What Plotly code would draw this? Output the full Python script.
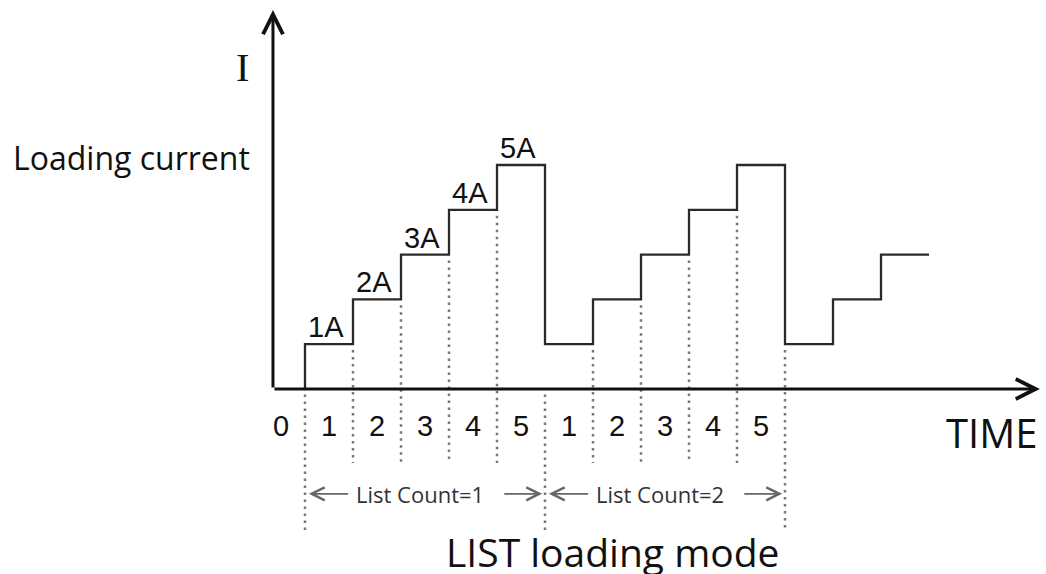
import plotly.graph_objects as go

# ---------------- data ----------------
step_times = [0, 1, 2, 3, 4, 5, 6, 7, 8, 9, 10, 11, 12, 13]      # step boundaries (time units)
step_currents = [1, 2, 3, 4, 5, 1, 2, 3, 4, 5, 1, 2, 3]            # current (A) during each step
level_labels = ["1A", "2A", "3A", "4A", "5A"]
tick_positions = [-0.5, 0.5, 1.5, 2.5, 3.5, 4.5, 5.5, 6.5, 7.5, 8.5, 9.5]
tick_labels = ["0", "1", "2", "3", "4", "5", "1", "2", "3", "4", "5"]
list_count_labels = ["List Count=1", "List Count=2"]
list_count_starts = [0, 5]
list_count_ends = [5, 10]
# dotted guide lines: boundary time, top current (0 = only below axis), long or short
guide_times = [0, 1, 2, 3, 4, 5, 6, 7, 8, 9, 10]
guide_tops = [0, 1, 2, 3, 4, 0, 1, 2, 3, 4, 1]
guide_long = [True, False, False, False, False, True, False, False, False, False, True]

# ---------------- layout constants ----------------
W, H = 1046, 574
X_RANGE = [-6.354, 15.4375]
Y_RANGE = [-4.129, 8.683]
AXIS_X0 = -0.667
AXIS_X1 = 15.31
AXIS_Y1 = 8.46
SHORT_BOTTOM = -1.65
LONG_BOTTOM = -3.15
GAP = 0.13
SANS = "Open Sans, Noto Sans, sans-serif"

fig = go.Figure()

# dotted guides
for t, top, lng in zip(guide_times, guide_tops, guide_long):
    y0 = top - GAP if top > 0 else -0.12
    y1 = LONG_BOTTOM if lng else SHORT_BOTTOM
    fig.add_trace(go.Scatter(
        x=[t, t], y=[y0, y1], mode="lines",
        line=dict(color="#777777", width=2.5, dash="2.5px,4.5px"),
        hoverinfo="skip"))

# step waveform
sx = [step_times[0]] + step_times
sy = [0] + step_currents + [step_currents[-1]]
fig.add_trace(go.Scatter(
    x=sx, y=sy, mode="lines", line_shape="hv",
    line=dict(color="#2a2a2a", width=2.3), hoverinfo="skip"))

ann = []
# axes arrows
ann.append(dict(x=AXIS_X1, y=0, ax=AXIS_X0, ay=0, xref="x", yref="y", axref="x", ayref="y",
                text="", showarrow=True, arrowhead=5, arrowsize=1.3, arrowwidth=3,
                arrowcolor="#111111", standoff=0, startstandoff=0))
ann.append(dict(x=AXIS_X0, y=AXIS_Y1, ax=AXIS_X0, ay=0, xref="x", yref="y", axref="x", ayref="y",
                text="", showarrow=True, arrowhead=5, arrowsize=1.3, arrowwidth=3,
                arrowcolor="#111111", standoff=0, startstandoff=0))

# level labels on first cycle
for i, lab in enumerate(level_labels):
    ann.append(dict(x=step_times[i], y=step_currents[i], text=lab, showarrow=False,
                    xanchor="left", yanchor="bottom", xshift=1, yshift=-1,
                    font=dict(family="Liberation Sans, Arial", size=29, color="#111111")))

# time step labels
for xp, lab in zip(tick_positions, tick_labels):
    ann.append(dict(x=xp, y=-0.83, text=lab, showarrow=False, xanchor="center", yanchor="middle",
                    font=dict(family="Liberation Sans, Arial", size=29, color="#111111")))

# list count labels with arrows
for lab, s, e in zip(list_count_labels, list_count_starts, list_count_ends):
    mid = (s + e) / 2
    ann.append(dict(x=mid - 0.1, y=-2.34, text=lab, showarrow=False, xanchor="center", yanchor="middle",
                    font=dict(family=SANS, size=22, color="#333333")))
    ann.append(dict(x=s + 0.08, y=-2.34, ax=s + 0.93, ay=-2.34, xref="x", yref="y", axref="x", ayref="y",
                    text="", showarrow=True, arrowhead=5, arrowsize=1.6, arrowwidth=1.6,
                    arrowcolor="#666666", standoff=0, startstandoff=0))
    ann.append(dict(x=e - 0.06, y=-2.34, ax=e - 0.88, ay=-2.34, xref="x", yref="y", axref="x", ayref="y",
                    text="", showarrow=True, arrowhead=5, arrowsize=1.6, arrowwidth=1.6,
                    arrowcolor="#666666", standoff=0, startstandoff=0))

# axis titles
ann.append(dict(x=-1.31, y=7.17, text="I", showarrow=False, xanchor="center", yanchor="middle",
                font=dict(family="Liberation Serif, Times New Roman", size=40, color="#111111")))
ann.append(dict(x=-1.10, y=5.17, text="Loading current", showarrow=False, xanchor="right", yanchor="middle",
                font=dict(family=SANS, size=32, color="#111111")))
ann.append(dict(x=14.31, y=-0.96, text="TIME", showarrow=False, xanchor="center", yanchor="middle",
                font=dict(family=SANS, size=40, color="#111111")))
ann.append(dict(x=612 / W, y=1 - 551 / H, xref="paper", yref="paper", text="LIST loading mode",
                showarrow=False, xanchor="center", yanchor="middle",
                font=dict(family=SANS, size=39, color="#111111")))

fig.update_layout(
    width=W, height=H, margin=dict(l=0, r=0, t=0, b=0),
    paper_bgcolor="white", plot_bgcolor="white", showlegend=False,
    xaxis=dict(range=X_RANGE, visible=False, fixedrange=True),
    yaxis=dict(range=Y_RANGE, visible=False, fixedrange=True),
    annotations=ann,
)

fig.write_html("out.html", config={"displayModeBar": False},
               post_script="document.body.style.margin='0';document.body.style.overflow='hidden';")
